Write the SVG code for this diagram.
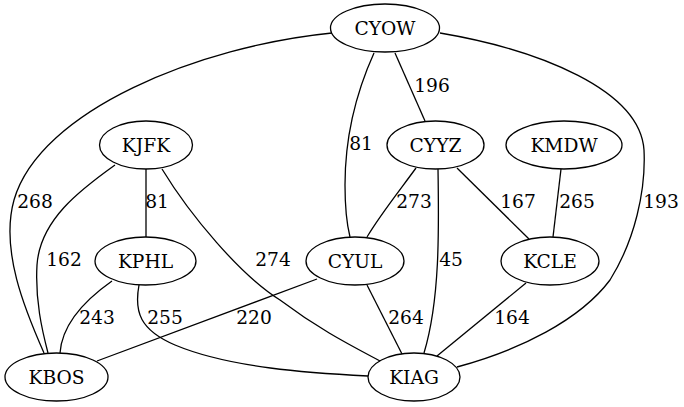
<svg xmlns="http://www.w3.org/2000/svg" width="684" height="407" viewBox="0 0 684 407">
<style>
.n ellipse{fill:none;stroke:#000;stroke-width:1.3}
text{font-family:"DejaVu Serif","Liberation Serif",serif;font-size:18.67px;fill:#000;text-anchor:middle}
.e path{fill:none;stroke:#000;stroke-width:1.3}
</style>
<rect width="684" height="407" fill="#fff"/>
<g id="edges" class="e">
<path d="M332,33 C200,46 40,110 14,200 C0,250 25,310 44,353"/>
<path d="M115,165 C80,190 40,220 37,265 C35,300 42,330 48,353"/>
<path d="M146,169 L146,237"/>
<path d="M162,169 C190,215 240,275 280,300 C320,330 350,345 380,361"/>
<path d="M112,281 C85,300 62,325 60,353"/>
<path d="M139,285 C134,312 140,330 175,345 C230,368 310,373 368,376"/>
<path d="M317,279 L97,361"/>
<path d="M374,53 C355,95 345,140 345,185 C345,210 347,225 350,237"/>
<path d="M395,53 L425,121"/>
<path d="M440,33 C540,50 640,90 644,150 C646,190 635,240 610,280 C580,320 520,350 457,367"/>
<path d="M416,168 C400,190 380,215 367,237"/>
<path d="M438,169 C439,230 440,300 424,353"/>
<path d="M457,168 L529,239"/>
<path d="M561,169 L553,237"/>
<path d="M367,285 L402,354"/>
<path d="M526,283 L437,356"/>
</g>
<g id="edge-labels">
<text x="35" y="208">268</text>
<text x="157" y="208">81</text>
<text x="432" y="92">196</text>
<text x="361" y="150">81</text>
<text x="414" y="208">273</text>
<text x="518" y="208">167</text>
<text x="577" y="208">265</text>
<text x="661" y="208">193</text>
<text x="64" y="266">162</text>
<text x="273" y="266">274</text>
<text x="451" y="266">45</text>
<text x="97" y="324">243</text>
<text x="165" y="324">255</text>
<text x="254" y="324">220</text>
<text x="406" y="324">264</text>
<text x="512" y="324">164</text>
</g>
<g id="CYOW" class="n"><ellipse cx="385" cy="28" rx="54.5" ry="24"/><text x="385" y="34.5">CYOW</text></g>
<g id="KJFK" class="n"><ellipse cx="146" cy="145" rx="46.5" ry="24"/><text x="146" y="151.5">KJFK</text></g>
<g id="CYYZ" class="n"><ellipse cx="435.5" cy="145" rx="48.5" ry="24"/><text x="435.5" y="151.5">CYYZ</text></g>
<g id="KMDW" class="n"><ellipse cx="564" cy="145" rx="58" ry="24"/><text x="564" y="151.5">KMDW</text></g>
<g id="KPHL" class="n"><ellipse cx="145.5" cy="261" rx="50.5" ry="24"/><text x="145.5" y="267.5">KPHL</text></g>
<g id="CYUL" class="n"><ellipse cx="355" cy="261" rx="49" ry="24"/><text x="355" y="267.5">CYUL</text></g>
<g id="KCLE" class="n"><ellipse cx="550" cy="261" rx="49" ry="24"/><text x="550" y="267.5">KCLE</text></g>
<g id="KBOS" class="n"><ellipse cx="56.5" cy="377" rx="51.5" ry="24"/><text x="56.5" y="383.5">KBOS</text></g>
<g id="KIAG" class="n"><ellipse cx="414" cy="377" rx="46" ry="24"/><text x="414" y="383.5">KIAG</text></g>
</svg>
